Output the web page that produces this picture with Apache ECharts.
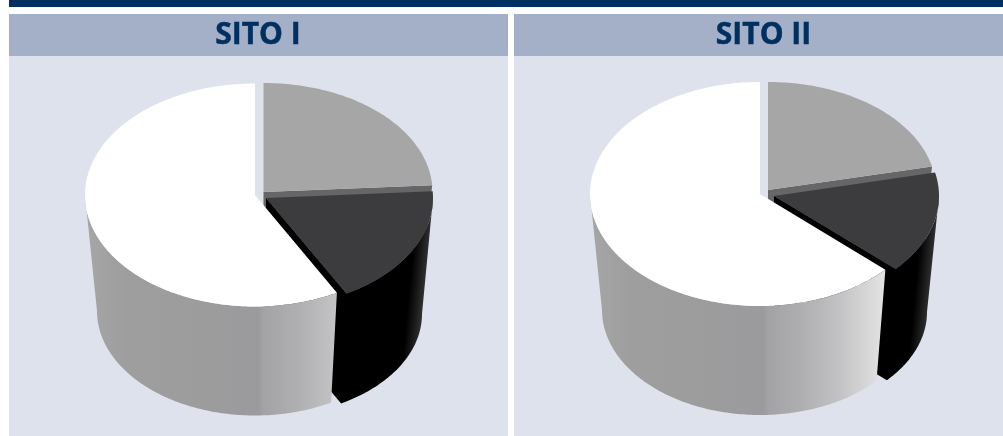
<!DOCTYPE html>
<html>
<head>
<meta charset="utf-8">
<style>html,body{margin:0;padding:0;background:#fff}#chart{width:1003px;height:436px}</style>
<script src="https://cdn.jsdelivr.net/npm/echarts@6/dist/echarts.min.js"></script>
</head>
<body>
<div id="chart"></div>
<script>
// Site names and the share of each slice, in percent.
const sites = ['SITO I', 'SITO II'];
const sliceNames = ['Grigio', 'Scuro', 'Bianco'];
const shareSitoI = [24, 18, 58];
const shareSitoII = [21.5, 15.3, 63.2];

const NAVY = '#003060';
const HEADER = '#a4b0c8';
const BODY = '#dde2ec';

// Projected ellipses of each slice: top face centre and radii, then the rim's depth and bottom radii.
const geometry = [
  [
    { x: 263.5, y: 192, rx: 169, ry: 109, dy: 116, brx: 157, bry: 102 },
    { x: 266, y: 198, rx: 167, ry: 109, dy: 116, brx: 156, bry: 102 },
    { x: 255, y: 195, rx: 170, ry: 111.5, dy: 116, brx: 158, bry: 104.5 }
  ],
  [
    { x: 768, y: 190, rx: 168, ry: 108, dy: 116, brx: 157, bry: 101 },
    { x: 774, y: 196, rx: 165, ry: 108, dy: 116, brx: 153, bry: 101 },
    { x: 760, y: 194, rx: 170, ry: 112, dy: 116, brx: 158, bry: 105 }
  ]
];

// Rim lighting across the width of the pie (0 = far left, 1 = far right).
const lightRim = { slant: 0, stops: [
  [0, '#a6a6a6'], [0.12, '#9e9e9e'], [0.51, '#9b9b9d'], [0.525, '#a3a3a5'],
  [0.63, '#b0b0b2'], [0.73, '#c2c2c4'], [0.87, '#e4e4e4'], [1, '#eeeeee']
] };
const blackRim = { slant: 0.095, stops: [
  [0, '#000000'], [0.955, '#000000'], [0.98, '#1a1a1a'], [1, '#303030']
] };

const topPt = (g, deg) => {
  const r = deg * Math.PI / 180;
  return [g.x + g.rx * Math.sin(r), g.y - g.ry * Math.cos(r)];
};
const botPt = (g, deg) => {
  const r = deg * Math.PI / 180;
  return [g.x + g.brx * Math.sin(r), g.y + g.dy - g.bry * Math.cos(r)];
};

function sweep(fn, g, a0, a1) {
  const pts = [];
  const n = Math.max(1, Math.ceil(Math.abs(a1 - a0)));
  for (let i = 0; i <= n; i++) pts.push(fn(g, a0 + (a1 - a0) * i / n));
  return pts;
}

function rimFill(g, rim) {
  const span = 2 * g.rx / (1 + rim.slant * rim.slant);
  return new echarts.graphic.LinearGradient(
    g.x - g.rx, g.y, g.x - g.rx + span, g.y + span * rim.slant,
    rim.stops.map(([offset, color]) => ({ offset, color })),
    true
  );
}

// One slice: outer rim (joined to its radial wall when the slice has one in view), then the top face.
function sliceChildren(g, a0, a1, topColor, wallColor, rim, wallInRim) {
  const children = [];
  if (wallColor) {
    children.push({
      type: 'polygon',
      shape: { points: [[g.x, g.y], topPt(g, a1), botPt(g, a1), [g.x, g.y + g.dy]] },
      style: { fill: wallColor }
    });
  }
  const from = Math.max(a0, 90), to = Math.min(a1, 270);
  if (to > from) {
    let points = sweep(topPt, g, to, from).concat(sweep(botPt, g, from, to));
    if (wallInRim) points = [[g.x, g.y]].concat(points, [[g.x, g.y + g.dy]]);
    children.push({ type: 'polygon', shape: { points }, style: { fill: rimFill(g, rim) } });
  }
  children.push({
    type: 'polygon',
    shape: { points: [[g.x, g.y]].concat(sweep(topPt, g, a0, a1)) },
    style: { fill: topColor }
  });
  return children;
}

const topColors = ['#a6a6a6', '#3c3c3e', '#ffffff'];
const wallColors = ['#666668', null, null];
const wallInRim = [false, true, false];
const rims = [lightRim, blackRim, lightRim];

const pieRows = [];
[shareSitoI, shareSitoII].forEach((shares, p) => {
  let acc = 0;
  shares.forEach((s, i) => {
    pieRows.push([p, i, acc, acc + s, sliceNames[i]]);
    acc += s;
  });
});

const titleStyle = {
  fill: NAVY, stroke: NAVY, lineWidth: 0.5,
  fontFamily: 'Open Sans', fontWeight: 'bold', fontSize: 30,
  align: 'center', verticalAlign: 'middle'
};

const option = {
  animation: false,
  backgroundColor: '#ffffff',
  graphic: [
    { type: 'rect', z: -10, shape: { x: 9, y: 0, width: 994, height: 7 }, style: { fill: NAVY } },
    { type: 'rect', z: -10, shape: { x: 9, y: 14, width: 499, height: 42 }, style: { fill: HEADER } },
    { type: 'rect', z: -10, shape: { x: 514, y: 14, width: 489, height: 42 }, style: { fill: HEADER } },
    { type: 'rect', z: -10, shape: { x: 9, y: 56, width: 499, height: 380 }, style: { fill: BODY } },
    { type: 'rect', z: -10, shape: { x: 514, y: 56, width: 489, height: 380 }, style: { fill: BODY } },
    { type: 'text', x: 258, y: 35.5, style: Object.assign({ text: sites[0] }, titleStyle) },
    { type: 'text', x: 763.5, y: 35.5, style: Object.assign({ text: sites[1] }, titleStyle) }
  ],
  series: [{
    type: 'custom',
    coordinateSystem: 'none',
    clip: false,
    data: pieRows,
    renderItem: (params, api) => {
      const p = api.value(0), i = api.value(1);
      const a0 = api.value(2) * 3.6, a1 = api.value(3) * 3.6;
      return {
        type: 'group',
        children: sliceChildren(geometry[p][i], a0, a1, topColors[i], wallColors[i], rims[i], wallInRim[i])
      };
    }
  }]
};

const chart = echarts.init(document.getElementById('chart'), null, { renderer: 'canvas' });
chart.setOption(option);
</script>
</body>
</html>
